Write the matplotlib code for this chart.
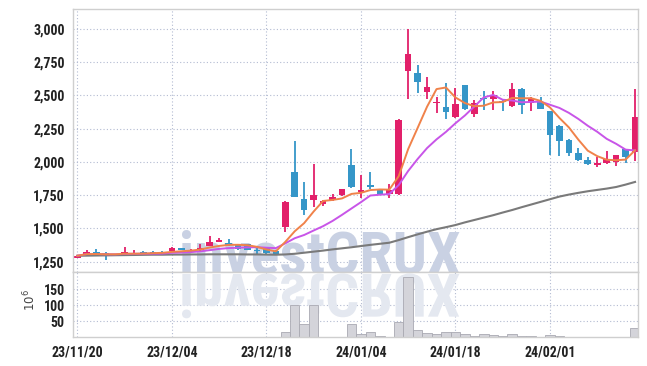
import numpy as np
import pandas as pd
import matplotlib
matplotlib.use('Agg')
import matplotlib.pyplot as plt
from matplotlib import font_manager as fm
from matplotlib.textpath import TextPath
from matplotlib.patches import PathPatch
from matplotlib.transforms import Affine2D
from matplotlib.ticker import FuncFormatter

dates = ['23/11/20', '23/11/21', '23/11/22', '23/11/23', '23/11/24', '23/11/27', '23/11/28', '23/11/29', '23/11/30', '23/12/01',
         '23/12/04', '23/12/05', '23/12/06', '23/12/07', '23/12/08', '23/12/11', '23/12/12', '23/12/13', '23/12/14', '23/12/15',
         '23/12/18', '23/12/19', '23/12/20', '23/12/21', '23/12/22', '23/12/26', '23/12/27', '23/12/28', '24/01/02', '24/01/03',
         '24/01/04', '24/01/05', '24/01/08', '24/01/09', '24/01/10', '24/01/11', '24/01/12', '24/01/15', '24/01/16', '24/01/17',
         '24/01/18', '24/01/19', '24/01/22', '24/01/23', '24/01/24', '24/01/25', '24/01/26', '24/01/29', '24/01/30', '24/01/31',
         '24/02/01', '24/02/02', '24/02/05', '24/02/06', '24/02/07', '24/02/08', '24/02/13', '24/02/14', '24/02/15', '24/02/16']

opens = [1280, 1300, 1320, 1315, 1300, 1300, 1310, 1325, 1320, 1322,
         1330, 1350, 1320, 1335, 1370, 1400, 1390, 1378, 1380, 1342,
         1355, 1333, 1513, 1925, 1720, 1715, 1685, 1712, 1750, 1978,
         1775, 1825, 1790, 1757, 1757, 2685, 2670, 2525, 2440, 2410,
         2337, 2580, 2360, 2480, 2475, 2455, 2420, 2550, 2445, 2450,
         2380, 2270, 2165, 2070, 2015, 1975, 1992, 2000, 2095, 2075]
highs = [1300, 1335, 1345, 1320, 1310, 1360, 1340, 1330, 1330, 1330,
         1360, 1355, 1345, 1380, 1440, 1430, 1420, 1385, 1385, 1352,
         1358, 1336, 1705, 2155, 1850, 1985, 1715, 1760, 1800, 2100,
         1905, 1925, 1795, 1835, 2320, 3000, 2730, 2640, 2490, 2595,
         2555, 2580, 2465, 2535, 2530, 2470, 2590, 2555, 2490, 2492,
         2385, 2275, 2170, 2105, 2040, 2040, 2080, 2055, 2100, 2548]
lows = [1275, 1295, 1305, 1260, 1298, 1295, 1305, 1310, 1300, 1310,
        1325, 1335, 1318, 1330, 1365, 1395, 1372, 1340, 1335, 1305,
        1312, 1305, 1475, 1735, 1605, 1665, 1670, 1705, 1745, 1805,
        1730, 1800, 1755, 1730, 1755, 2470, 2520, 2470, 2365, 2320,
        2330, 2390, 2335, 2390, 2388, 2385, 2410, 2362, 2380, 2395,
        2055, 2045, 2045, 2005, 1980, 1965, 1985, 1970, 1990, 2005]
closes = [1295, 1320, 1310, 1300, 1305, 1320, 1318, 1315, 1315, 1318,
          1355, 1340, 1340, 1355, 1395, 1415, 1378, 1345, 1340, 1333,
          1315, 1308, 1700, 1740, 1640, 1750, 1705, 1738, 1797, 1810,
          1790, 1810, 1760, 1790, 2315, 2810, 2605, 2560, 2450, 2375,
          2435, 2395, 2440, 2470, 2500, 2448, 2550, 2425, 2475, 2400,
          2200, 2155, 2070, 2015, 1985, 1995, 2020, 2050, 2040, 2335]
volumes = [1.2, 0.8, 1.0, 0.9, 0.6, 1.1, 0.9, 0.7, 0.6, 0.6,
           1.4, 1.0, 0.9, 1.3, 2.0, 1.5, 1.0, 0.9, 1.0, 0.8,
           0.9, 0.7, 17, 102, 42, 101, 2, 2, 2, 43,
           12, 17, 4, 3, 49, 187, 23, 15, 12, 17,
           17, 12, 5, 11, 7, 4, 10, 5, 4, 3,
           7, 4, 3, 3, 2.5, 3, 3, 2.5, 2.5, 30]
ma60 = [1295, 1296, 1297, 1298, 1299, 1300, 1301, 1302, 1303, 1303,
        1304, 1304, 1305, 1305, 1306, 1306, 1306, 1306, 1305, 1305,
        1304, 1303, 1305, 1310, 1318, 1326, 1334, 1343, 1351, 1359,
        1368, 1377, 1385, 1393, 1413, 1435, 1456, 1476, 1495, 1510,
        1526, 1546, 1564, 1582, 1600, 1620, 1639, 1660, 1680, 1700,
        1720, 1740, 1755, 1768, 1780, 1790, 1800, 1812, 1830, 1850]
tick_labels = ['23/11/20', '23/12/04', '23/12/18', '24/01/04', '24/01/18', '24/02/01']
price_ticks = [1250, 1500, 1750, 2000, 2250, 2500, 2750, 3000]
volume_ticks = [50, 100, 150]
watermark = 'investCRUX'

UP = '#e2206a'
DOWN = '#3596c8'


def pick_font():
    entries = fm.fontManager.ttflist
    names = {f.name for f in entries}
    for n in ['Liberation Sans Narrow', 'Roboto Condensed', 'Open Sans Condensed',
              'Arial Narrow', 'Noto Sans Condensed', 'Lato Condensed']:
        if n in names:
            return n, 'normal'
    for n in ['DejaVu Sans', 'Noto Sans', 'Open Sans', 'Roboto', 'Lato']:
        for f in entries:
            if f.name == n and str(f.stretch) in ('condensed', 'semi-condensed', '500', '600'):
                return n, 'condensed'
    return 'Roboto', 'normal'


narrow, stretch = pick_font()
tick_fp = fm.FontProperties(family=[narrow, 'DejaVu Sans'], stretch=stretch, weight='bold', size=10)

W, H = 647, 366
fig = plt.figure(figsize=(W / 100, H / 100), dpi=100)
fig.patch.set_facecolor('white')
L, R = 73, 637.7
ax = fig.add_axes([L / W, 1 - 272 / H, (R - L) / W, (272 - 9) / H])
axv = fig.add_axes([L / W, 1 - 337 / H, (R - L) / W, (337 - 272) / H], sharex=ax)

x = np.arange(len(closes))
o = np.array(opens, float); c = np.array(closes, float)
hi = np.array(highs, float); lo = np.array(lows, float)
up = c >= o
cols = np.where(up, UP, DOWN)

# watermark (logo text + its mirrored reflection)
wm_fp = fm.FontProperties(family=[narrow, 'DejaVu Sans'], stretch=stretch, weight='bold')
ref_path = TextPath((0, 0), watermark, size=100, prop=wm_fp)
ext = ref_path.get_extents()
size_px = 100 * 286 / ext.width
size_px = min(size_px, 60)
x0 = 182 - ext.x0 * size_px / 100
base = H - 274
ax.text(x0, base, watermark, fontproperties=wm_fp, fontsize=size_px * 0.72,
        color='#c9d1e3', ha='left', va='baseline', transform=Affine2D(),
        clip_on=True, zorder=0.6)
tp = TextPath((0, 0), watermark, size=size_px, prop=wm_fp)
wm2 = PathPatch(tp, transform=Affine2D().scale(1, -1).translate(x0, base), facecolor='#e4e8f0',
                edgecolor='none', zorder=0.6)
axv.add_patch(wm2)

# candles
ax.vlines(x, lo, hi, colors=cols, linewidth=1.3, zorder=2)
body = np.maximum(np.abs(c - o), 5)
ax.bar(x, body, bottom=np.minimum(o, c), width=0.7, color=cols, edgecolor='none', zorder=2.1)

# moving averages
cs = pd.Series(closes, dtype=float)
ma5 = cs.rolling(5, min_periods=1).mean()
ma10 = cs.rolling(10, min_periods=1).mean()
ax.plot(x, ma60, color='#7a7a7a', lw=1.5, zorder=3)
ax.plot(x, ma10, color='#c855e8', lw=1.4, zorder=3.1)
ax.plot(x, ma5, color='#f0824a', lw=1.4, zorder=3.2)

# volume
axv.bar(x, volumes, width=1.0, color='#d4d4da', edgecolor='#a9a9b2', linewidth=0.6, zorder=2)

tick_pos = [dates.index(t) for t in tick_labels]
for a in (ax, axv):
    a.set_facecolor('white')
    a.grid(True, linestyle=(0, (1, 2)), color='#b3bbd2', linewidth=0.8)
    a.set_axisbelow(True)
    for s in a.spines.values():
        s.set_color('#cfcfcf')
        s.set_linewidth(1.0)
    a.tick_params(length=0, pad=6, labelcolor='#222222')

ax.set_xticks(tick_pos)
ax.tick_params(labelbottom=False)
axv.set_xticks(tick_pos)
axv.set_xticklabels(tick_labels)
ax.set_xlim(-0.455, 59.28)
ax.set_ylim(1173, 3150)
ax.set_yticks(price_ticks)
ax.yaxis.set_major_formatter(FuncFormatter(lambda v, p: f'{int(v):,}'))
axv.set_ylim(2, 203)
axv.set_yticks(volume_ticks)
for lab in ax.get_yticklabels() + axv.get_yticklabels() + axv.get_xticklabels():
    lab.set_fontproperties(tick_fp)

axv.set_ylabel('$10^6$', fontsize=8.5, color='#444444', rotation=90)
axv.yaxis.set_label_coords(-0.062, 0.57)

fig.savefig('out.png', dpi=100)
